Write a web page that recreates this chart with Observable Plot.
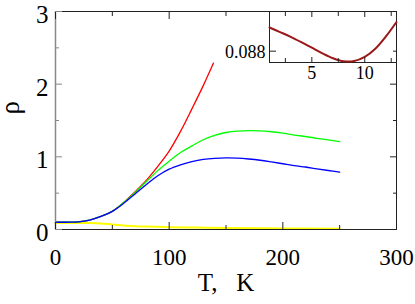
<!DOCTYPE html>
<html><head><meta charset="utf-8">
<script src="https://cdn.jsdelivr.net/npm/d3@7"></script>
<script src="https://cdn.jsdelivr.net/npm/@observablehq/plot@0.6"></script>
<style>
body{margin:0;background:#fff;}
#main{width:415px;height:304px;}
</style></head><body><div id="main"></div>
<script>
// ---- data ----
const T = [0,10,20,30,40,50,60,70,80,90,100,110,120,130,140,150,160,170,180,190,200,210,220,230,240,250];
const rhoBlue  = [0.10,0.10,0.105,0.13,0.18,0.25,0.36,0.49,0.62,0.74,0.83,0.89,0.935,0.965,0.98,0.985,0.982,0.97,0.953,0.93,0.905,0.88,0.86,0.835,0.812,0.79];
const rhoGreen = [0.10,0.10,0.105,0.13,0.18,0.25,0.37,0.51,0.66,0.81,0.94,1.06,1.15,1.235,1.295,1.335,1.355,1.36,1.357,1.345,1.325,1.30,1.28,1.255,1.232,1.21];
const Tred   = [0,10,20,30,40,50,60,70,80,90,100,110,120,130,139];
const rhoRed = [0.10,0.10,0.105,0.13,0.18,0.25,0.37,0.52,0.68,0.87,1.08,1.35,1.66,1.98,2.29];
const Tyellow   = [0,10,20,30,40,50,60,70,80,100,125,150,200,250];
const rhoYellow = [0.088,0.0879,0.0885,0.088,0.082,0.07,0.055,0.046,0.04,0.032,0.027,0.022,0.015,0.01];
const insetT   = [1,2,3,4,5,6,7,8,9,10,11,12,13];
const insetRho = [0.0880835,0.0880673,0.0880507,0.088032,0.0880122,0.0879924,0.0879751,0.0879643,0.087965,0.0879798,0.0880086,0.0880518,0.0881029];

const xTicks = [0,100,200,300];
const xMinor = [50,150,250];
const yTicks = [0,1,2,3];
const yMinor = [0.5,1.5,2.5];
const insetXTicks = [5,10];
const insetXMinor = [2.5,7.5,12.5];
const insetYTicks = [0.088];
const xLabel = "T,\u00a0\u00a0\u00a0K";
const yLabel = "ρ";

const rows = (xs, ys) => xs.map((x, i) => ({T: x, rho: ys[i]}));
const font = "Liberation Serif";
const tickColor = "#222";
const fmt = d => String(d);

// inward ticks (negative tick size), no labels
const tk = (len, stroke = tickColor) => ({tickSize: -len, fill: "none", stroke, strokeWidth: 1, label: null});
const lab = (size, pad, extra) => ({tickSize: 0, tickPadding: pad, fontSize: size, fontFamily: font, fill: "black", label: null, tickFormat: fmt, ...extra});

const main = Plot.plot({
  width: 415, height: 304,
  marginLeft: 55, marginRight: 19, marginTop: 11, marginBottom: 75,
  style: {background: "white", overflow: "visible", color: "black"},
  x: {domain: [0, 300]},
  y: {domain: [0, 3]},
  marks: [
    Plot.line(rows(Tyellow, rhoYellow), {x: "T", y: "rho", stroke: "#ffff00", strokeWidth: 2, curve: "catmull-rom"}),
    Plot.line(rows(Tred, rhoRed), {x: "T", y: "rho", stroke: "#ff0000", strokeWidth: 1.3, curve: "catmull-rom"}),
    Plot.line(rows(T, rhoGreen), {x: "T", y: "rho", stroke: "#00ff00", strokeWidth: 1.3, curve: "catmull-rom"}),
    Plot.line(rows(T, rhoBlue), {x: "T", y: "rho", stroke: "#0000ff", strokeWidth: 1.3, curve: "catmull-rom"}),
    Plot.frame({stroke: "#222"}),
    Plot.ruleX([0], {stroke: "#888", strokeWidth: 1.5}),
    Plot.axisX(xTicks, {anchor: "bottom", ...tk(7)}),
    Plot.axisX(xMinor, {anchor: "bottom", ...tk(4)}),
    Plot.axisX(xTicks, {anchor: "top", ...tk(7)}),
    Plot.axisX(xMinor, {anchor: "top", ...tk(4)}),
    Plot.axisY(yTicks, {anchor: "left", ...tk(7, "#888")}),
    Plot.axisY(yMinor, {anchor: "left", ...tk(4, "#888")}),
    Plot.axisY(yTicks, {anchor: "right", ...tk(7)}),
    Plot.axisY(yMinor, {anchor: "right", ...tk(4)}),
    Plot.axisX(xTicks, {anchor: "bottom", ...lab(23, 19)}),
    Plot.axisY(yTicks, {anchor: "left", ...lab(25, 7, {dy: 3.5})}),
    Plot.text([xLabel], {frameAnchor: "bottom", dy: 61, fontSize: 25, fontFamily: font, fill: "black"}),
    Plot.text([yLabel], {frameAnchor: "left", dx: -45, dy: -6, rotate: -90, fontSize: 27, fontFamily: font, fill: "black"})
  ]
});

const inset = Plot.plot({
  width: 215, height: 95,
  marginLeft: 69, marginRight: 19, marginTop: 11, marginBottom: 33,
  style: {background: "transparent", overflow: "visible", color: "black"},
  x: {domain: [1, 13]},
  y: {domain: [0.08796, 0.08814]},
  marks: [
    Plot.frame({fill: "white", stroke: "#222"}),
    Plot.line(rows(insetT, insetRho), {x: "T", y: "rho", stroke: "#9a1818", strokeWidth: 2, curve: "catmull-rom"}),
    Plot.axisX(insetXTicks, {anchor: "top", ...tk(5)}),
    Plot.axisX(insetXMinor, {anchor: "top", ...tk(4)}),
    Plot.axisX(insetXTicks, {anchor: "bottom", ...tk(5)}),
    Plot.axisX(insetXMinor, {anchor: "bottom", ...tk(4)}),
    Plot.axisY(insetYTicks, {anchor: "left", ...tk(7)}),
    Plot.axisY(insetYTicks, {anchor: "right", ...tk(4)}),
    Plot.axisX(insetXTicks, {anchor: "bottom", ...lab(18, 4)}),
    Plot.axisY(insetYTicks, {anchor: "left", ...lab(18, 4, {dy: 1})})
  ]
});

// nest the inset inside the main SVG (top-right corner of the frame)
inset.setAttribute("x", 200);
inset.setAttribute("y", 0);
inset.style.width = "215px";
inset.style.height = "95px";
inset.style.maxWidth = "none";
main.appendChild(inset);
document.getElementById("main").appendChild(main);

// make sure every text uses the serif face
main.querySelectorAll("text").forEach(t => {
  t.setAttribute("font-family", font);
  t.style.fontFamily = "'Liberation Serif', 'Times New Roman', serif";
  t.getBBox();
});
document.body.offsetHeight;
</script>
</body></html>
